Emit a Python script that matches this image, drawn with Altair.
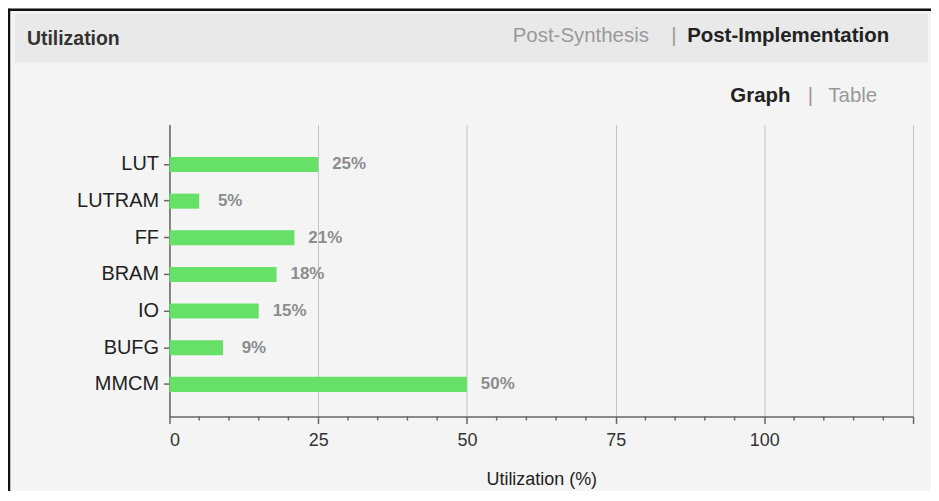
import altair as alt
import pandas as pd

CATEGORIES = ["LUT", "LUTRAM", "FF", "BRAM", "IO", "BUFG", "MMCM"]
UTILIZATION = [25, 5, 21, 18, 15, 9, 50]
X_TICKS = [0, 25, 50, 75, 100, 125]
MINOR_TICKS = [5, 10, 15, 20, 30, 35, 40, 45, 55, 60, 65, 70,
               80, 85, 90, 95, 105, 110, 115, 120]

W, H = 746, 293
FONT = "Liberation Sans"

df = pd.DataFrame({
    "resource": CATEGORIES,
    "util": UTILIZATION,
    "label": [f"{v}%" for v in UTILIZATION],
})

xscale = alt.Scale(domain=[0, 125], nice=False, zero=True)
yscale = alt.Scale(domain=CATEGORIES, paddingInner=0.59, paddingOuter=0.78, align=0.57)

bars = alt.Chart(df).mark_bar(color="#66e066").encode(
    x=alt.X("util:Q", scale=xscale, title="Utilization (%)",
            axis=alt.Axis(values=X_TICKS, labelExpr="datum.value == 125 ? '' : datum.label",
                          grid=True, gridColor="#c4c4c4", gridWidth=1,
                          domainColor="#666", domainWidth=1.5,
                          tickColor="#666", tickSize=7, tickWidth=1.5,
                          labelFont=FONT, labelFontSize=18, labelColor="#333",
                          labelPadding=8, titleFont=FONT, titleFontSize=18,
                          titleFontWeight="normal", titleColor="#222", titlePadding=21)),
    y=alt.Y("resource:N", scale=yscale, sort=CATEGORIES, title=None,
            axis=alt.Axis(grid=False, domainColor="#666", domainWidth=1.5,
                          tickColor="#666", tickSize=6, tickWidth=1.5,
                          labelFont=FONT, labelFontSize=20, labelColor="#222",
                          labelPadding=5)),
)

labels = alt.Chart(df).mark_text(
    align="center", baseline="middle", dx=31, font=FONT, fontSize=17,
    fontWeight="bold", color="#8c8c8c"
).encode(
    x=alt.X("util:Q", scale=xscale),
    y=alt.Y("resource:N", scale=yscale, sort=CATEGORIES),
    text="label:N",
)

minor = alt.Chart(pd.DataFrame({"v": MINOR_TICKS})).mark_rule(
    color="#666", strokeWidth=1.5
).encode(
    x=alt.X("v:Q", scale=xscale),
    y=alt.value(H),
    y2=alt.value(H + 4),
)

one = pd.DataFrame({"k": [0]})

header = alt.Chart(one).mark_rect(color="#e9e9e9").encode(
    x=alt.value(-155), x2=alt.value(761), y=alt.value(-111), y2=alt.value(-62)
)

border_top = alt.Chart(one).mark_rule(color="#111", strokeWidth=2.5).encode(
    x=alt.value(-162), x2=alt.value(770), y=alt.value(-115)
)
border_left = alt.Chart(one).mark_rule(color="#111", strokeWidth=2.5).encode(
    x=alt.value(-161), y=alt.value(-116), y2=alt.value(H + 200)
)


def txt(s, x, y, align, bold, color, size=20.5):
    return alt.Chart(pd.DataFrame({"t": [s]})).mark_text(
        align=align, baseline="middle", font=FONT, fontSize=size,
        fontWeight="bold" if bold else "normal", color=color
    ).encode(x=alt.value(x), y=alt.value(y), text="t:N")


texts = [
    txt("Utilization", -143, -86, "left", True, "#333", 19.5),
    txt("Post-Synthesis", 481, -89, "right", False, "#999"),
    txt("|", 506, -89, "center", False, "#999"),
    txt("Post-Implementation", 722, -89, "right", True, "#222"),
    txt("Graph", 623, -28, "right", True, "#222"),
    txt("|", 643, -28, "center", False, "#999"),
    txt("Table", 661, -28, "left", False, "#999"),
]

chart = alt.layer(header, border_top, border_left, bars, minor, labels, *texts).properties(
    width=W, height=H,
    autosize=alt.AutoSizeParams(type="none"),
    padding={"left": 162, "top": 116, "right": 18, "bottom": 74},
    background="#f4f4f4",
).configure_view(stroke=None)

chart.save("out.html", embed_options={"renderer": "svg", "actions": False})
